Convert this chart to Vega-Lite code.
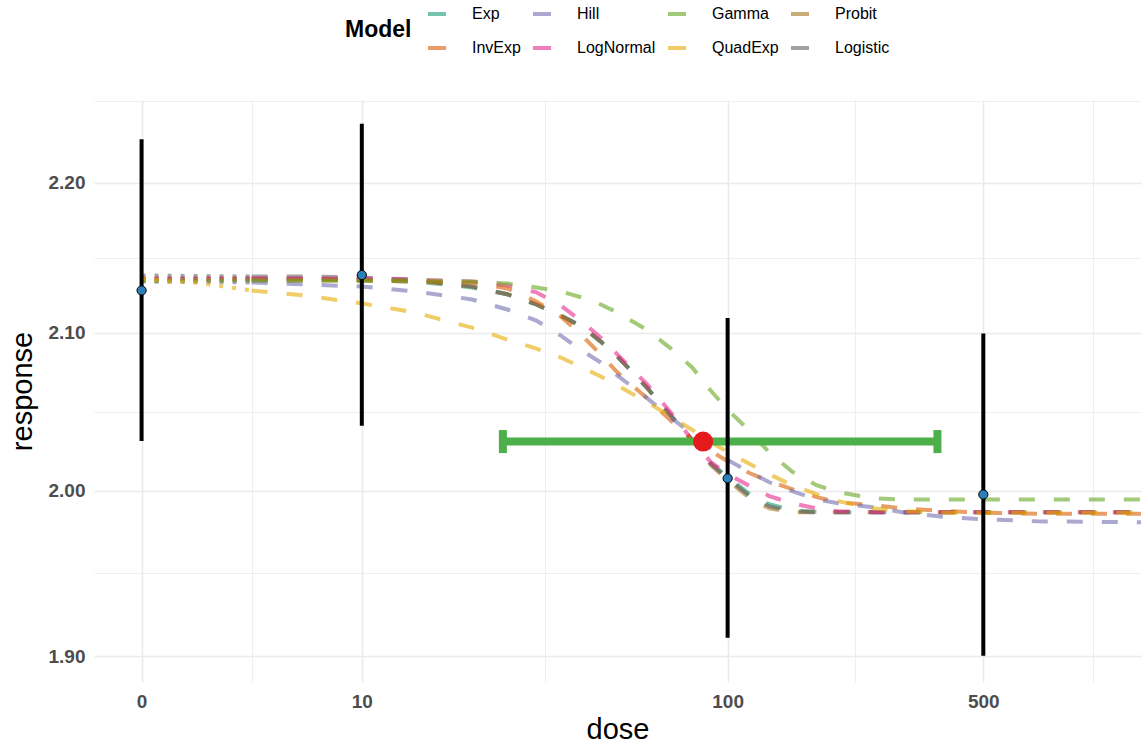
{
  "$schema": "https://vega.github.io/schema/vega-lite/v6.json",
  "width": 1047,
  "height": 582,
  "autosize": {"type": "none"},
  "padding": {"left": 94, "top": 100, "right": 5, "bottom": 65},
  "background": "white",
  "config": {"view": {"stroke": null}, "font": "Liberation Sans"},
  "datasets": {
    "curves": [
      {"model":"Exp","seg":"dotted","dose":2.5,"response":2.1350},
      {"model":"Exp","seg":"dotted","dose":5,"response":2.1350},
      {"model":"Probit","seg":"dotted","dose":2.5,"response":2.1357},
      {"model":"Probit","seg":"dotted","dose":5,"response":2.1357},
      {"model":"Logistic","seg":"dotted","dose":2.5,"response":2.1377},
      {"model":"Logistic","seg":"dotted","dose":5,"response":2.1370},
      {"model":"LogNormal","seg":"dotted","dose":2.5,"response":2.1357},
      {"model":"LogNormal","seg":"dotted","dose":5,"response":2.1357},
      {"model":"InvExp","seg":"dotted","dose":2.5,"response":2.1344},
      {"model":"InvExp","seg":"dotted","dose":5,"response":2.1344},
      {"model":"Hill","seg":"dotted","dose":2.5,"response":2.1337},
      {"model":"Hill","seg":"dotted","dose":5,"response":2.1331},
      {"model":"Gamma","seg":"dotted","dose":2.5,"response":2.1340},
      {"model":"Gamma","seg":"dotted","dose":5,"response":2.1344},
      {"model":"QuadExp","seg":"dotted","dose":2.5,"response":2.1357},
      {"model":"QuadExp","seg":"dotted","dose":3,"response":2.1337},
      {"model":"QuadExp","seg":"dotted","dose":3.5,"response":2.1331},
      {"model":"QuadExp","seg":"dotted","dose":4.2,"response":2.1304},
      {"model":"QuadExp","seg":"dotted","dose":5,"response":2.1278},

      {"model":"Exp","seg":"dashed","dose":5,"response":2.1350},
      {"model":"Exp","seg":"dashed","dose":7,"response":2.1350},
      {"model":"Exp","seg":"dashed","dose":10,"response":2.1344},
      {"model":"Exp","seg":"dashed","dose":14,"response":2.1337},
      {"model":"Exp","seg":"dashed","dose":20,"response":2.1298},
      {"model":"Exp","seg":"dashed","dose":25,"response":2.1253},
      {"model":"Exp","seg":"dashed","dose":30,"response":2.1186},
      {"model":"Exp","seg":"dashed","dose":35,"response":2.1113},
      {"model":"Exp","seg":"dashed","dose":40,"response":2.1042},
      {"model":"Exp","seg":"dashed","dose":45,"response":2.0944},
      {"model":"Exp","seg":"dashed","dose":50,"response":2.0847},
      {"model":"Exp","seg":"dashed","dose":60,"response":2.0651},
      {"model":"Exp","seg":"dashed","dose":70,"response":2.0469},
      {"model":"Exp","seg":"dashed","dose":80,"response":2.0316},
      {"model":"Exp","seg":"dashed","dose":90,"response":2.0171},
      {"model":"Exp","seg":"dashed","dose":100,"response":2.0083},
      {"model":"Exp","seg":"dashed","dose":115,"response":1.9978},
      {"model":"Exp","seg":"dashed","dose":130,"response":1.9916},
      {"model":"Exp","seg":"dashed","dose":150,"response":1.9879},
      {"model":"Exp","seg":"dashed","dose":175,"response":1.9870},
      {"model":"Exp","seg":"dashed","dose":200,"response":1.9867},
      {"model":"Exp","seg":"dashed","dose":300,"response":1.9867},
      {"model":"Exp","seg":"dashed","dose":500,"response":1.9867},
      {"model":"Exp","seg":"dashed","dose":1000,"response":1.9867},
      {"model":"Exp","seg":"dashed","dose":1349,"response":1.9867},

      {"model":"Probit","seg":"dashed","dose":5,"response":2.1357},
      {"model":"Probit","seg":"dashed","dose":7,"response":2.1357},
      {"model":"Probit","seg":"dashed","dose":10,"response":2.1350},
      {"model":"Probit","seg":"dashed","dose":14,"response":2.1344},
      {"model":"Probit","seg":"dashed","dose":20,"response":2.1304},
      {"model":"Probit","seg":"dashed","dose":25,"response":2.1253},
      {"model":"Probit","seg":"dashed","dose":30,"response":2.1186},
      {"model":"Probit","seg":"dashed","dose":35,"response":2.1113},
      {"model":"Probit","seg":"dashed","dose":40,"response":2.1042},
      {"model":"Probit","seg":"dashed","dose":45,"response":2.0944},
      {"model":"Probit","seg":"dashed","dose":50,"response":2.0847},
      {"model":"Probit","seg":"dashed","dose":60,"response":2.0651},
      {"model":"Probit","seg":"dashed","dose":70,"response":2.0469},
      {"model":"Probit","seg":"dashed","dose":80,"response":2.0316},
      {"model":"Probit","seg":"dashed","dose":90,"response":2.0158},
      {"model":"Probit","seg":"dashed","dose":100,"response":2.0065},
      {"model":"Probit","seg":"dashed","dose":115,"response":1.9953},
      {"model":"Probit","seg":"dashed","dose":130,"response":1.9891},
      {"model":"Probit","seg":"dashed","dose":150,"response":1.9867},
      {"model":"Probit","seg":"dashed","dose":200,"response":1.9867},
      {"model":"Probit","seg":"dashed","dose":500,"response":1.9867},
      {"model":"Probit","seg":"dashed","dose":1349,"response":1.9867},

      {"model":"Logistic","seg":"dashed","dose":5,"response":2.1370},
      {"model":"Logistic","seg":"dashed","dose":7,"response":2.1370},
      {"model":"Logistic","seg":"dashed","dose":10,"response":2.1364},
      {"model":"Logistic","seg":"dashed","dose":14,"response":2.1350},
      {"model":"Logistic","seg":"dashed","dose":20,"response":2.1304},
      {"model":"Logistic","seg":"dashed","dose":25,"response":2.1253},
      {"model":"Logistic","seg":"dashed","dose":30,"response":2.1186},
      {"model":"Logistic","seg":"dashed","dose":35,"response":2.1113},
      {"model":"Logistic","seg":"dashed","dose":40,"response":2.1042},
      {"model":"Logistic","seg":"dashed","dose":45,"response":2.0944},
      {"model":"Logistic","seg":"dashed","dose":50,"response":2.0847},
      {"model":"Logistic","seg":"dashed","dose":60,"response":2.0651},
      {"model":"Logistic","seg":"dashed","dose":70,"response":2.0469},
      {"model":"Logistic","seg":"dashed","dose":80,"response":2.0316},
      {"model":"Logistic","seg":"dashed","dose":90,"response":2.0165},
      {"model":"Logistic","seg":"dashed","dose":100,"response":2.0077},
      {"model":"Logistic","seg":"dashed","dose":115,"response":1.9966},
      {"model":"Logistic","seg":"dashed","dose":130,"response":1.9904},
      {"model":"Logistic","seg":"dashed","dose":150,"response":1.9873},
      {"model":"Logistic","seg":"dashed","dose":175,"response":1.9867},
      {"model":"Logistic","seg":"dashed","dose":300,"response":1.9867},
      {"model":"Logistic","seg":"dashed","dose":1349,"response":1.9867},

      {"model":"LogNormal","seg":"dashed","dose":5,"response":2.1357},
      {"model":"LogNormal","seg":"dashed","dose":7,"response":2.1357},
      {"model":"LogNormal","seg":"dashed","dose":10,"response":2.1357},
      {"model":"LogNormal","seg":"dashed","dose":14,"response":2.1350},
      {"model":"LogNormal","seg":"dashed","dose":20,"response":2.1337},
      {"model":"LogNormal","seg":"dashed","dose":25,"response":2.1311},
      {"model":"LogNormal","seg":"dashed","dose":30,"response":2.1266},
      {"model":"LogNormal","seg":"dashed","dose":35,"response":2.1179},
      {"model":"LogNormal","seg":"dashed","dose":40,"response":2.1074},
      {"model":"LogNormal","seg":"dashed","dose":45,"response":2.0970},
      {"model":"LogNormal","seg":"dashed","dose":50,"response":2.0860},
      {"model":"LogNormal","seg":"dashed","dose":60,"response":2.0673},
      {"model":"LogNormal","seg":"dashed","dose":70,"response":2.0488},
      {"model":"LogNormal","seg":"dashed","dose":80,"response":2.0316},
      {"model":"LogNormal","seg":"dashed","dose":90,"response":2.0177},
      {"model":"LogNormal","seg":"dashed","dose":100,"response":2.0103},
      {"model":"LogNormal","seg":"dashed","dose":115,"response":2.0028},
      {"model":"LogNormal","seg":"dashed","dose":130,"response":1.9966},
      {"model":"LogNormal","seg":"dashed","dose":150,"response":1.9922},
      {"model":"LogNormal","seg":"dashed","dose":175,"response":1.9891},
      {"model":"LogNormal","seg":"dashed","dose":200,"response":1.9873},
      {"model":"LogNormal","seg":"dashed","dose":250,"response":1.9867},
      {"model":"LogNormal","seg":"dashed","dose":500,"response":1.9867},
      {"model":"LogNormal","seg":"dashed","dose":1349,"response":1.9867},

      {"model":"InvExp","seg":"dashed","dose":5,"response":2.1344},
      {"model":"InvExp","seg":"dashed","dose":7,"response":2.1344},
      {"model":"InvExp","seg":"dashed","dose":10,"response":2.1344},
      {"model":"InvExp","seg":"dashed","dose":14,"response":2.1337},
      {"model":"InvExp","seg":"dashed","dose":20,"response":2.1331},
      {"model":"InvExp","seg":"dashed","dose":25,"response":2.1291},
      {"model":"InvExp","seg":"dashed","dose":30,"response":2.1206},
      {"model":"InvExp","seg":"dashed","dose":35,"response":2.1107},
      {"model":"InvExp","seg":"dashed","dose":40,"response":2.0983},
      {"model":"InvExp","seg":"dashed","dose":45,"response":2.0860},
      {"model":"InvExp","seg":"dashed","dose":50,"response":2.0744},
      {"model":"InvExp","seg":"dashed","dose":60,"response":2.0584},
      {"model":"InvExp","seg":"dashed","dose":70,"response":2.0437},
      {"model":"InvExp","seg":"dashed","dose":80,"response":2.0316},
      {"model":"InvExp","seg":"dashed","dose":90,"response":2.0246},
      {"model":"InvExp","seg":"dashed","dose":100,"response":2.0183},
      {"model":"InvExp","seg":"dashed","dose":115,"response":2.0108},
      {"model":"InvExp","seg":"dashed","dose":130,"response":2.0058},
      {"model":"InvExp","seg":"dashed","dose":150,"response":2.0009},
      {"model":"InvExp","seg":"dashed","dose":175,"response":1.9960},
      {"model":"InvExp","seg":"dashed","dose":200,"response":1.9929},
      {"model":"InvExp","seg":"dashed","dose":250,"response":1.9910},
      {"model":"InvExp","seg":"dashed","dose":300,"response":1.9891},
      {"model":"InvExp","seg":"dashed","dose":400,"response":1.9873},
      {"model":"InvExp","seg":"dashed","dose":500,"response":1.9864},
      {"model":"InvExp","seg":"dashed","dose":700,"response":1.9857},
      {"model":"InvExp","seg":"dashed","dose":1349,"response":1.9857},

      {"model":"Hill","seg":"dashed","dose":5,"response":2.1331},
      {"model":"Hill","seg":"dashed","dose":7,"response":2.1318},
      {"model":"Hill","seg":"dashed","dose":10,"response":2.1304},
      {"model":"Hill","seg":"dashed","dose":14,"response":2.1272},
      {"model":"Hill","seg":"dashed","dose":20,"response":2.1219},
      {"model":"Hill","seg":"dashed","dose":25,"response":2.1153},
      {"model":"Hill","seg":"dashed","dose":30,"response":2.1081},
      {"model":"Hill","seg":"dashed","dose":35,"response":2.0983},
      {"model":"Hill","seg":"dashed","dose":40,"response":2.0886},
      {"model":"Hill","seg":"dashed","dose":45,"response":2.0809},
      {"model":"Hill","seg":"dashed","dose":50,"response":2.0725},
      {"model":"Hill","seg":"dashed","dose":60,"response":2.0584},
      {"model":"Hill","seg":"dashed","dose":70,"response":2.0456},
      {"model":"Hill","seg":"dashed","dose":80,"response":2.0354},
      {"model":"Hill","seg":"dashed","dose":90,"response":2.0265},
      {"model":"Hill","seg":"dashed","dose":100,"response":2.0190},
      {"model":"Hill","seg":"dashed","dose":115,"response":2.0115},
      {"model":"Hill","seg":"dashed","dose":130,"response":2.0052},
      {"model":"Hill","seg":"dashed","dose":150,"response":1.9997},
      {"model":"Hill","seg":"dashed","dose":175,"response":1.9947},
      {"model":"Hill","seg":"dashed","dose":200,"response":1.9922},
      {"model":"Hill","seg":"dashed","dose":250,"response":1.9898},
      {"model":"Hill","seg":"dashed","dose":300,"response":1.9867},
      {"model":"Hill","seg":"dashed","dose":400,"response":1.9836},
      {"model":"Hill","seg":"dashed","dose":500,"response":1.9824},
      {"model":"Hill","seg":"dashed","dose":700,"response":1.9811},
      {"model":"Hill","seg":"dashed","dose":1000,"response":1.9808},
      {"model":"Hill","seg":"dashed","dose":1349,"response":1.9805},

      {"model":"QuadExp","seg":"dashed","dose":5,"response":2.1278},
      {"model":"QuadExp","seg":"dashed","dose":7,"response":2.1245},
      {"model":"QuadExp","seg":"dashed","dose":10,"response":2.1193},
      {"model":"QuadExp","seg":"dashed","dose":14,"response":2.1133},
      {"model":"QuadExp","seg":"dashed","dose":20,"response":2.1035},
      {"model":"QuadExp","seg":"dashed","dose":25,"response":2.0957},
      {"model":"QuadExp","seg":"dashed","dose":30,"response":2.0899},
      {"model":"QuadExp","seg":"dashed","dose":35,"response":2.0841},
      {"model":"QuadExp","seg":"dashed","dose":40,"response":2.0777},
      {"model":"QuadExp","seg":"dashed","dose":45,"response":2.0719},
      {"model":"QuadExp","seg":"dashed","dose":50,"response":2.0661},
      {"model":"QuadExp","seg":"dashed","dose":60,"response":2.0558},
      {"model":"QuadExp","seg":"dashed","dose":70,"response":2.0462},
      {"model":"QuadExp","seg":"dashed","dose":80,"response":2.0380},
      {"model":"QuadExp","seg":"dashed","dose":90,"response":2.0303},
      {"model":"QuadExp","seg":"dashed","dose":100,"response":2.0240},
      {"model":"QuadExp","seg":"dashed","dose":115,"response":2.0165},
      {"model":"QuadExp","seg":"dashed","dose":130,"response":2.0102},
      {"model":"QuadExp","seg":"dashed","dose":150,"response":2.0034},
      {"model":"QuadExp","seg":"dashed","dose":175,"response":1.9978},
      {"model":"QuadExp","seg":"dashed","dose":200,"response":1.9935},
      {"model":"QuadExp","seg":"dashed","dose":250,"response":1.9891},
      {"model":"QuadExp","seg":"dashed","dose":300,"response":1.9873},
      {"model":"QuadExp","seg":"dashed","dose":400,"response":1.9864},
      {"model":"QuadExp","seg":"dashed","dose":1349,"response":1.9864},

      {"model":"Gamma","seg":"dashed","dose":5,"response":2.1344},
      {"model":"Gamma","seg":"dashed","dose":10,"response":2.1344},
      {"model":"Gamma","seg":"dashed","dose":14,"response":2.1344},
      {"model":"Gamma","seg":"dashed","dose":20,"response":2.1337},
      {"model":"Gamma","seg":"dashed","dose":25,"response":2.1324},
      {"model":"Gamma","seg":"dashed","dose":30,"response":2.1298},
      {"model":"Gamma","seg":"dashed","dose":35,"response":2.1272},
      {"model":"Gamma","seg":"dashed","dose":40,"response":2.1232},
      {"model":"Gamma","seg":"dashed","dose":45,"response":2.1186},
      {"model":"Gamma","seg":"dashed","dose":50,"response":2.1133},
      {"model":"Gamma","seg":"dashed","dose":60,"response":2.1022},
      {"model":"Gamma","seg":"dashed","dose":70,"response":2.0899},
      {"model":"Gamma","seg":"dashed","dose":80,"response":2.0777},
      {"model":"Gamma","seg":"dashed","dose":90,"response":2.0628},
      {"model":"Gamma","seg":"dashed","dose":100,"response":2.0507},
      {"model":"Gamma","seg":"dashed","dose":115,"response":2.0373},
      {"model":"Gamma","seg":"dashed","dose":130,"response":2.0237},
      {"model":"Gamma","seg":"dashed","dose":150,"response":2.0119},
      {"model":"Gamma","seg":"dashed","dose":175,"response":2.0034},
      {"model":"Gamma","seg":"dashed","dose":200,"response":1.9991},
      {"model":"Gamma","seg":"dashed","dose":250,"response":1.9953},
      {"model":"Gamma","seg":"dashed","dose":300,"response":1.9945},
      {"model":"Gamma","seg":"dashed","dose":500,"response":1.9945},
      {"model":"Gamma","seg":"dashed","dose":1349,"response":1.9945}
    ],
    "obs": [
      {"dose":2.5,"response":2.1278,"lower":2.0310,"upper":2.2298},
      {"dose":10,"response":2.1380,"lower":2.0405,"upper":2.2404},
      {"dose":100,"response":2.0076,"lower":1.9110,"upper":2.1098},
      {"dose":500,"response":1.9976,"lower":1.9004,"upper":2.0996}
    ],
    "bmd": [
      {"dose":85.7,"dosel":24.3,"doseu":374.6,"response":2.0306}
    ]
  },
  "encoding": {
    "x": {
      "field": "dose", "type": "quantitative",
      "scale": {"type": "log", "domain": [1.853, 1349], "nice": false},
      "axis": {
        "values": [2.5, 5, 10, 31.62, 100, 223.6, 500, 1000],
        "labelExpr": "indexof([2.5,10,100,500], datum.value) >= 0 ? (datum.value < 5 ? '0' : format(datum.value, 'd')) : ''",
        "title": "dose",
        "titleFontSize": 29, "titleFontWeight": "normal", "titleColor": "black", "titlePadding": 4,
        "labelFontSize": 19, "labelFontWeight": "bold", "labelColor": "#4D4D4D", "labelPadding": 10,
        "labelFlush": false, "labelOverlap": false, "labelBound": false,
        "ticks": false, "domain": false, "grid": true, "gridColor": "#EBEBEB",
        "gridWidth": {"condition": {"test": "indexof([2.5,10,100,500], datum.value) >= 0", "value": 1.6}, "value": 0.8}
      }
    },
    "y": {
      "field": "response", "type": "quantitative",
      "scale": {"type": "log", "domain": [1.885, 2.257], "nice": false, "zero": false},
      "axis": {
        "values": [1.9, 1.9494, 2.0, 2.0494, 2.1, 2.1494, 2.2, 2.2562],
        "labelExpr": "indexof([1.9,2,2.1,2.2], datum.value) >= 0 ? format(datum.value, '.2f') : ''",
        "title": "response",
        "titleFontSize": 29, "titleFontWeight": "normal", "titleColor": "black", "titlePadding": 11,
        "labelFontSize": 19, "labelFontWeight": "bold", "labelColor": "#4D4D4D", "labelPadding": 9,
        "labelFlush": false, "labelOverlap": false, "labelBound": false,
        "ticks": false, "domain": false, "grid": true, "gridColor": "#EBEBEB",
        "gridWidth": {"condition": {"test": "indexof([1.9,2,2.1,2.2], datum.value) >= 0", "value": 1.6}, "value": 0.8}
      }
    }
  },
  "layer": [
    {
      "data": {"name": "curves"},
      "mark": {"type": "line", "strokeWidth": 4, "opacity": 0.6, "clip": true},
      "encoding": {
        "color": {
          "field": "model", "type": "nominal",
          "scale": {
            "domain": ["Exp", "Hill", "Gamma", "Probit", "InvExp", "LogNormal", "QuadExp", "Logistic"],
            "range": ["#1B9E77", "#7570B3", "#66A61E", "#A6761D", "#D95F02", "#E7298A", "#E6AB02", "#666666"]
          },
          "legend": {
            "title": "Model", "orient": "none", "legendX": 251, "legendY": -97,
            "direction": "horizontal", "columns": 4,
            "symbolType": "stroke", "symbolSize": 324, "symbolStrokeWidth": 4, "symbolOpacity": 0.6,
            "symbolDash": [100, 0],
            "labelFontSize": 16, "labelOffset": 24, "labelColor": "black",
            "columnPadding": 4, "rowPadding": 15,
            "titleOrient": "left", "titleAnchor": "middle", "titleBaseline": "middle",
            "titleFontSize": 23, "titleFontWeight": "bold", "titleColor": "black", "titlePadding": 14
          }
        },
        "strokeDash": {
          "field": "seg", "type": "nominal",
          "scale": {"domain": ["dashed", "dotted"], "range": [[16, 19], [4, 9]]},
          "legend": null
        }
      }
    },
    {
      "data": {"name": "bmd"},
      "mark": {"type": "rule", "color": "#4DAF4A", "strokeWidth": 8},
      "encoding": {
        "x": {"field": "dosel", "type": "quantitative"},
        "x2": {"field": "doseu"}
      }
    },
    {
      "data": {"name": "bmd"},
      "mark": {"type": "tick", "color": "#4DAF4A", "orient": "vertical", "size": 23, "thickness": 8, "opacity": 1},
      "encoding": {
        "x": {"field": "dosel", "type": "quantitative"}
      }
    },
    {
      "data": {"name": "bmd"},
      "mark": {"type": "tick", "color": "#4DAF4A", "orient": "vertical", "size": 23, "thickness": 8, "opacity": 1},
      "encoding": {
        "x": {"field": "doseu", "type": "quantitative"}
      }
    },
    {
      "data": {"name": "bmd"},
      "mark": {"type": "circle", "color": "#E41A1C", "size": 400, "opacity": 1}
    },
    {
      "data": {"name": "obs"},
      "mark": {"type": "rule", "color": "black", "strokeWidth": 4},
      "encoding": {
        "y": {"field": "lower", "type": "quantitative"},
        "y2": {"field": "upper"}
      }
    },
    {
      "data": {"name": "obs"},
      "mark": {"type": "point", "shape": "circle", "filled": true, "fill": "#2C7FB8", "stroke": "black", "strokeWidth": 1, "size": 85, "opacity": 1}
    }
  ]
}
